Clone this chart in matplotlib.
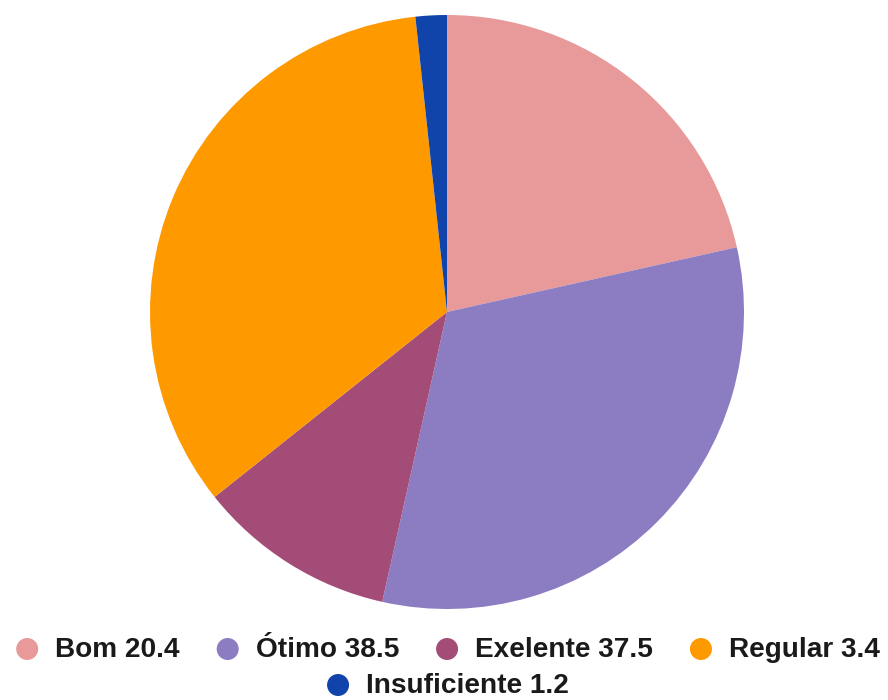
import matplotlib
matplotlib.use("Agg")
import matplotlib.pyplot as plt
from matplotlib.patches import Ellipse

categories = ["Bom", "Ótimo", "Exelente", "Regular", "Insuficiente"]
legend_values = ["20.4", "38.5", "37.5", "3.4", "1.2"]
slice_values = [21.5, 32.0, 10.8, 34.0, 1.7]
colors = ["#E89A9A", "#8C7CC2", "#A34C78", "#FF9900", "#1144AA"]

W, H = 888, 700
fig = plt.figure(figsize=(W / 100, H / 100), dpi=100)
fig.patch.set_facecolor("white")

cx, cy, r = 447, 312, 297
ax = fig.add_axes([(cx - r) / W, (H - cy - r) / H, 2 * r / W, 2 * r / H])
ax.pie(slice_values, colors=colors, startangle=90, counterclock=False,
       radius=1.0, wedgeprops=dict(linewidth=0, antialiased=True))
ax.set_xlim(-1, 1)
ax.set_ylim(-1, 1)
ax.set_aspect("equal")
ax.axis("off")

# legend drawn manually (two centred rows)
fontsize = 20.2
rows = [[0, 1, 2, 3], [4]]
row_y = [649, 685]
dot_r = 11
dot_gap = 17
item_gap = 37
fig.canvas.draw()
renderer = fig.canvas.get_renderer()
for row, ypix in zip(rows, row_y):
    texts = []
    widths = []
    for i in row:
        t = fig.text(0, 0, f"{categories[i]} {legend_values[i]}", fontsize=fontsize,
                     fontweight="bold", family=["Liberation Sans", "DejaVu Sans"],
                     color="#1a1a1a", va="center", ha="left")
        bb = t.get_window_extent(renderer=renderer)
        texts.append(t)
        widths.append(bb.width)
    total = sum(2 * dot_r + dot_gap + w for w in widths) + item_gap * (len(row) - 1)
    x = 448 - total / 2
    for i, t, w in zip(row, texts, widths):
        fig.patches.append(Ellipse(((x + dot_r) / W, (H - ypix) / H), 2 * dot_r / W, 2 * dot_r / H,
                                   transform=fig.transFigure, facecolor=colors[i],
                                   edgecolor="none", figure=fig))
        t.set_position(((x + 2 * dot_r + dot_gap) / W, (H - ypix - 1) / H))
        x += 2 * dot_r + dot_gap + w + item_gap

fig.savefig("out.png", dpi=100, facecolor="white")
